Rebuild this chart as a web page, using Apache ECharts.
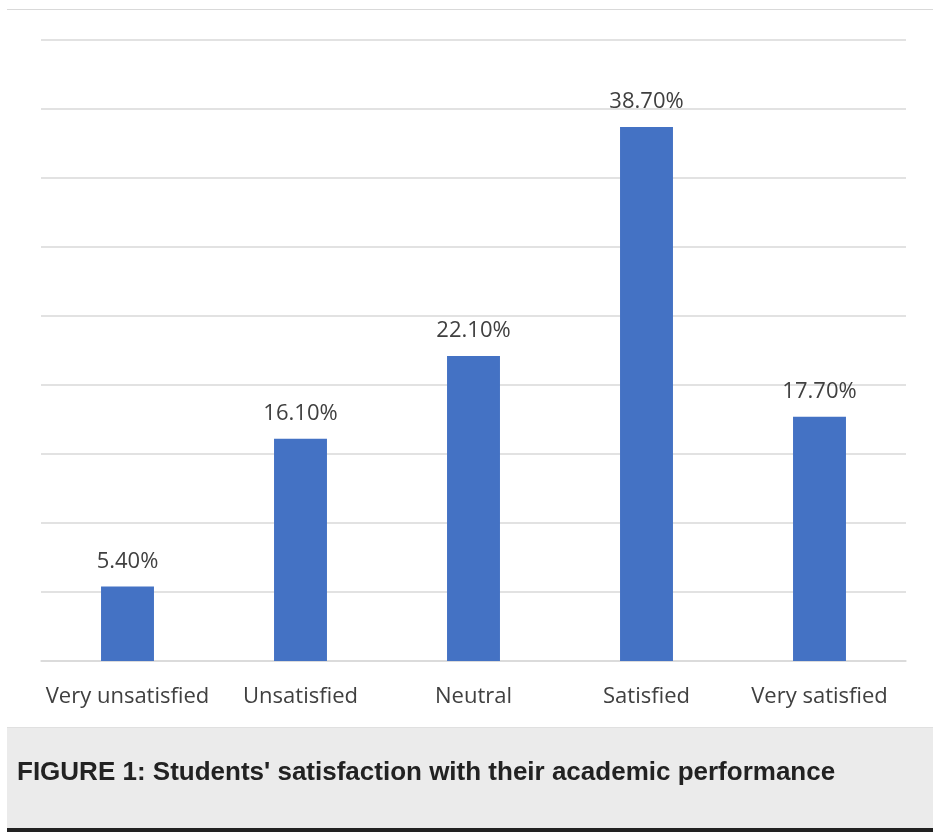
<!DOCTYPE html>
<html>
<head>
<meta charset="utf-8">
<script src="https://cdn.jsdelivr.net/npm/echarts@6/dist/echarts.min.js"></script>
<style>
  html, body { margin: 0; padding: 0; background: #fff; }
  #chart { width: 933px; height: 832px; }
</style>
</head>
<body>
<div id="chart"></div>
<script>
const categories = ['Very unsatisfied', 'Unsatisfied', 'Neutral', 'Satisfied', 'Very satisfied']
const satisfaction = [5.4, 16.1, 22.1, 38.7, 17.7]
const caption = "FIGURE 1: Students' satisfaction with their academic performance"

const chart = echarts.init(document.getElementById('chart'))

const option = {
  animation: false,
  grid: { left: 41, right: 27, top: 40, bottom: 171 },
  xAxis: {
    type: 'category',
    data: categories,
    axisLine: { lineStyle: { color: '#d9d9d9', width: 1.5 } },
    axisTick: { show: false },
    axisLabel: {
      color: '#404040',
      fontFamily: 'Open Sans',
      fontSize: 22,
      margin: 25,
      interval: 0
    }
  },
  yAxis: {
    type: 'value',
    min: 0,
    max: 45,
    interval: 5,
    axisLabel: { show: false },
    axisLine: { show: false },
    axisTick: { show: false },
    splitLine: { lineStyle: { color: '#d9d9d9', width: 1.5 } }
  },
  series: [
    {
      type: 'bar',
      data: satisfaction,
      barWidth: '30.6%',
      itemStyle: { color: '#4472c4' },
      label: {
        show: true,
        position: 'top',
        distance: 14,
        color: '#404040',
        fontFamily: 'Open Sans',
        fontSize: 22,
        formatter: (p) => p.value.toFixed(2) + '%'
      }
    }
  ],
  graphic: [
    // thin rule at top
    { type: 'rect', shape: { x: 7, y: 9, width: 926, height: 1 }, style: { fill: '#d9d9d9' }, silent: true },
    // caption box
    { type: 'rect', shape: { x: 7, y: 727, width: 926, height: 101 }, style: { fill: '#ebebeb' }, silent: true },
    { type: 'rect', shape: { x: 7, y: 727, width: 926, height: 1 }, style: { fill: '#e0e0e0' }, silent: true },
    { type: 'rect', shape: { x: 7, y: 828, width: 926, height: 4 }, style: { fill: '#222222' }, silent: true },
    {
      type: 'text',
      x: 17,
      y: 773,
      style: {
        text: caption,
        fill: '#222222',
        verticalAlign: 'middle',
        font: 'bold 26px "Liberation Sans", Arial, sans-serif'
      },
      silent: true
    }
  ]
}

chart.setOption(option)
window.addEventListener('resize', () => chart.resize())
</script>
</body>
</html>
